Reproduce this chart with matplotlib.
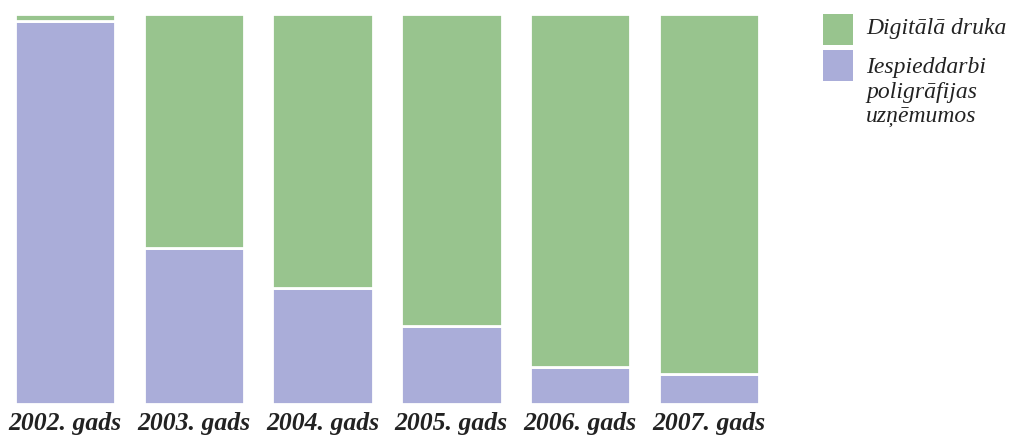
import matplotlib
matplotlib.use('Agg')
from matplotlib import pyplot as plt
from matplotlib.patches import Rectangle
import numpy as np

years = ['2002. gads', '2003. gads', '2004. gads', '2005. gads', '2006. gads', '2007. gads']
# procenti
iespieddarbi = [98.3, 39.9, 29.7, 19.9, 9.6, 7.6]
digitala = [100 - v for v in iespieddarbi]

c_green = '#98c48e'
c_purple = '#aaadd9'

plt.rcParams['font.family'] = ['Liberation Serif', 'DejaVu Serif']

fig = plt.figure(figsize=(10.09, 4.40), dpi=100)
ax = fig.add_axes([15 / 1009, 1 - 404 / 440, (759 - 15) / 1009, (404 - 14) / 440])

x = np.arange(len(years))
w = 0.78
ax.bar(x, iespieddarbi, width=w, color=c_purple, edgecolor='white', linewidth=2.0)
ax.bar(x, digitala, width=w, bottom=iespieddarbi, color=c_green, edgecolor='white', linewidth=2.0)

ax.set_xlim(-w / 2, len(years) - 1 + w / 2)
ax.set_ylim(0, 100)
ax.set_xticks(x)
ax.set_xticklabels(years, fontsize=18.5, fontweight='bold', fontstyle='italic', color='#222222')
ax.tick_params(axis='x', length=0, pad=6)
ax.set_yticks([])
for s in ax.spines.values():
    s.set_visible(False)

# legenda
fig.add_artist(Rectangle((823 / 1009, 1 - 45 / 440), 30 / 1009, 31 / 440,
                         transform=fig.transFigure, color=c_green, lw=0))
fig.add_artist(Rectangle((823 / 1009, 1 - 81 / 440), 30 / 1009, 31 / 440,
                         transform=fig.transFigure, color=c_purple, lw=0))
fig.text(866 / 1009, 1 - 18 / 440, 'Digitālā druka', fontsize=17, fontstyle='italic',
         va='top', ha='left', color='#222222')
fig.text(866 / 1009, 1 - 57 / 440, 'Iespieddarbi\npoligrāfijas\nuzņēmumos', fontsize=17,
         fontstyle='italic', va='top', ha='left', color='#222222', linespacing=1.25)

fig.savefig('out.png', dpi=100)
